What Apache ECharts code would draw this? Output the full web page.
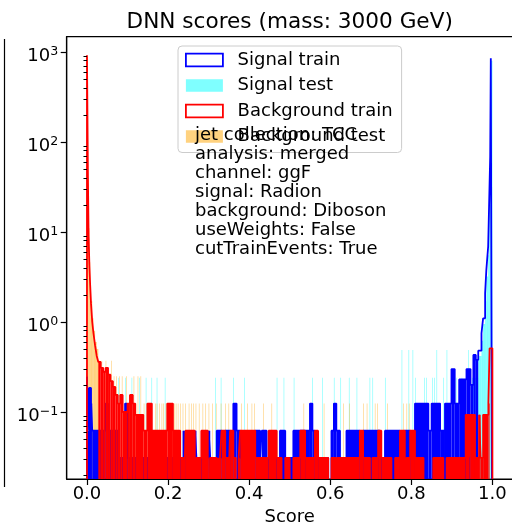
<!DOCTYPE html>
<html>
<head>
<meta charset="utf-8">
<script src="https://cdn.jsdelivr.net/npm/echarts@6/dist/echarts.min.js"></script>
<style>
html,body{margin:0;padding:0;background:#fff;}
#chart{width:512px;height:524px;}
</style>
</head>
<body>
<div id="chart"></div>
<script>
// ---------------- data ----------------
const titleText = 'DNN scores (mass: 3000 GeV)';
const xLabel = 'Score';
const xTicks = [0, 0.2, 0.4, 0.6, 0.8, 1.0];
const yTicks = [0.1, 1, 10, 100, 1000];
const yMinorTicks = [0.02,0.03,0.04,0.05,0.06,0.07,0.08,0.09,
  0.2,0.3,0.4,0.5,0.6,0.7,0.8,0.9, 2,3,4,5,6,7,8,9,
  20,30,40,50,60,70,80,90, 200,300,400,500,600,700,800,900];
const legendNames = ['Signal train', 'Signal test', 'Background train', 'Background test'];
const infoLines = ['jet collection: TCC', 'analysis: merged', 'channel: ggF', 'signal: Radion',
  'background: Diboson', 'useWeights: False', 'cutTrainEvents: True'];

// histogram bins: [scoreFrom, scoreTo, density]
const sigTrain = [
 [0.000,0.0025,0.247],[0.0025,0.005,0.062],[0.005,0.010,0.185],[0.010,0.013,0.124],
 [0.013,0.046,0.062],[0.046,0.052,0.124],[0.052,0.077,0.062],[0.077,0.094,0.031],
 [0.094,0.099,0.124],[0.099,0.160,0.031],[0.160,0.163,0.062],[0.163,0.238,0.031],
 [0.238,0.242,0.062],[0.242,0.266,0.031],[0.266,0.270,0.062],[0.270,0.300,0.031],
 [0.300,0.304,0.062],[0.304,0.320,0.031],[0.320,0.332,0.062],[0.332,0.341,0.031],
 [0.341,0.353,0.062],[0.353,0.361,0.031],[0.361,0.369,0.124],[0.369,0.378,0.062],
 [0.378,0.415,0.031],[0.415,0.427,0.062],[0.427,0.431,0.031],[0.431,0.443,0.062],
 [0.443,0.476,0.031],[0.476,0.489,0.062],[0.489,0.509,0.031],[0.509,0.550,0.062],
 [0.550,0.556,0.124],[0.556,0.562,0.062],[0.562,0.595,0.031],[0.603,0.609,0.062],
 [0.609,0.615,0.124],[0.615,0.624,0.062],[0.624,0.640,0.031],[0.640,0.673,0.062],
 [0.673,0.681,0.031],[0.681,0.722,0.062],[0.722,0.735,0.031],[0.735,0.772,0.062],
 [0.772,0.784,0.031],[0.784,0.797,0.062],[0.797,0.809,0.031],[0.809,0.842,0.124],
 [0.842,0.850,0.062],[0.850,0.871,0.124],[0.871,0.883,0.062],[0.883,0.899,0.124],
 [0.899,0.907,0.30],[0.907,0.918,0.124],[0.918,0.936,0.23],[0.936,0.946,0.30],
 [0.946,0.953,0.20],[0.953,0.959,0.43],[0.959,0.965,0.38],[0.965,0.973,0.48],
 [0.973,0.977,0.75],[0.977,0.982,1.1],[0.982,0.985,2.1],[0.985,0.9895,3.8],
 [0.9895,0.992,6.9],[0.992,0.9945,22],[0.9945,0.996,69],[0.996,1.000,850]
];
const sigTest = [
 [0.950,0.965,0.24],[0.965,0.973,0.42],[0.973,0.977,0.62],[0.977,0.982,0.95],
 [0.982,0.985,1.7],[0.985,0.9895,3.2],[0.9895,0.992,5.5],[0.992,0.9945,20],
 [0.9945,0.996,60],[0.996,1.000,800]
];
// isolated single fine bins: [score, density]
const sigTestSpikes = [
 [0.077,0.24],[0.094,0.24],[0.110,0.24],[0.129,0.24],[0.145,0.24],[0.159,0.24],[0.172,0.24],
 [0.192,0.24],[0.316,0.24],[0.330,0.24],[0.361,0.24],[0.388,0.24],[0.468,0.24],[0.485,0.24],
 [0.510,0.24],[0.555,0.24],[0.580,0.24],[0.609,0.24],[0.625,0.24],[0.646,0.24],[0.665,0.24],
 [0.697,0.24],[0.704,0.24],[0.735,0.24],[0.776,0.49],[0.793,0.49],[0.803,0.49],[0.809,0.24],
 [0.832,0.24],[0.837,0.24],[0.851,0.24],[0.856,0.24],[0.862,0.49],[0.879,0.24],[0.887,0.49],
 [0.904,0.24],[0.910,0.24],[0.924,0.24],[0.940,0.49]
];
const bkgTrain = [
 [0.000,0.0025,920],[0.0025,0.004,35],[0.004,0.006,9],[0.006,0.008,4.2],[0.008,0.010,2.5],
 [0.010,0.013,1.6],[0.013,0.016,1.0],[0.016,0.020,0.75],[0.020,0.024,0.55],[0.024,0.028,0.42],
 [0.028,0.034,0.36],[0.034,0.040,0.31],[0.040,0.046,0.28],[0.046,0.052,0.31],[0.052,0.058,0.26],
 [0.058,0.064,0.22],[0.064,0.070,0.19],[0.070,0.076,0.155],[0.076,0.082,0.124],[0.082,0.088,0.155],
 [0.088,0.100,0.10],[0.100,0.106,0.124],[0.106,0.113,0.155],[0.113,0.119,0.124],[0.119,0.139,0.093],
 [0.139,0.149,0.062],[0.149,0.160,0.124],[0.1625,0.198,0.062],[0.198,0.212,0.124],[0.212,0.230,0.062],
 [0.230,0.238,0.031],[0.2415,0.243,0.031],[0.243,0.266,0.062],[0.2695,0.282,0.031],[0.282,0.298,0.062],
 [0.298,0.300,0.031],[0.3035,0.320,0.031],[0.3235,0.324,0.031],[0.328,0.332,0.031],[0.332,0.341,0.062],
 [0.341,0.349,0.031],[0.351,0.353,0.031],[0.353,0.361,0.062],[0.361,0.367,0.031],[0.374,0.378,0.031],
 [0.378,0.415,0.062],[0.415,0.439,0.031],[0.441,0.448,0.031],[0.448,0.468,0.062],[0.468,0.480,0.031],
 [0.489,0.500,0.031],[0.509,0.526,0.031],[0.526,0.538,0.062],[0.538,0.562,0.031],[0.562,0.570,0.062],
 [0.570,0.595,0.031],[0.603,0.614,0.031],[0.617,0.673,0.031],[0.673,0.681,0.062],[0.681,0.698,0.031],
 [0.704,0.718,0.031],[0.718,0.726,0.062],[0.726,0.751,0.031],[0.760,0.772,0.031],[0.772,0.784,0.062],
 [0.788,0.797,0.031],[0.797,0.809,0.062],[0.809,0.830,0.031],[0.854,0.879,0.031],[0.887,0.934,0.031],
 [0.934,0.943,0.093],[0.943,0.945,0.031],[0.945,0.957,0.093],[0.957,0.967,0.031],[0.967,0.971,0.093],
 [0.971,0.977,0.031],[0.977,0.990,0.093],[0.990,0.993,0.124],[0.993,1.000,0.51]
];
const bkgTest = [
 [0.000,0.0025,880],[0.0025,0.004,40],[0.004,0.006,11],[0.006,0.008,4.6],[0.008,0.010,2.7],
 [0.010,0.013,1.7],[0.013,0.016,1.1],[0.016,0.020,0.8],[0.020,0.024,0.6],[0.024,0.028,0.5],
 [0.028,0.032,0.37]
];
const bkgTestSpikes = [
 [0.036,0.37],[0.041,0.25],[0.046,0.37],[0.050,0.25],[0.055,0.25],[0.060,0.37],[0.066,0.25],
 [0.072,0.25],[0.079,0.25],[0.086,0.25],[0.092,0.124],[0.097,0.25],[0.104,0.124],[0.110,0.124],
 [0.115,0.25],[0.120,0.124],[0.125,0.25],[0.132,0.25],[0.140,0.124],[0.147,0.124],[0.156,0.124],
 [0.168,0.124],[0.172,0.124],[0.178,0.124],[0.184,0.124],[0.188,0.124],[0.194,0.124],[0.203,0.124],
 [0.209,0.124],[0.215,0.124],[0.219,0.124],[0.224,0.124],[0.230,0.124],[0.236,0.124],[0.242,0.124],
 [0.251,0.124],[0.257,0.124],[0.262,0.124],[0.268,0.124],[0.276,0.124],[0.285,0.124],[0.292,0.124],
 [0.300,0.124],[0.309,0.124],[0.318,0.124],[0.330,0.124],[0.341,0.124],[0.349,0.124],[0.365,0.124],
 [0.380,0.124],[0.395,0.124],[0.406,0.124],[0.412,0.124],[0.435,0.124],[0.455,0.124],[0.534,0.124],
 [0.584,0.124],[0.632,0.124],[0.647,0.124],[0.681,0.124],[0.690,0.124],[0.710,0.124],[0.716,0.124],
 [0.740,0.124],[0.780,0.124],[0.788,0.124],[0.794,0.124],[0.858,0.124],[0.883,0.124],[0.887,0.124]
];

// ---------------- style / layout ----------------
const FONT = 'DejaVu Sans';
const X_MIN = -0.05, X_MAX = 1.05, Y_MIN = 0.01802, Y_MAX = 1479;
const FINE_BIN = 0.0016;      // width of a single fine bin
const FLOOR = 1e-4;           // below axis: empty bins
const SIG_SOLID_MAX = 0.45, BKG_SOLID_MAX = 0.4;
const C_SIG = '#0000ff', C_BKG = '#ff0000';
const C_SIG_T = 'rgba(0,255,255,0.5)', C_BKG_T = 'rgba(255,165,0,0.5)';

const spikesToBins = sp => sp.map(([x, v]) => [x, x + FINE_BIN, v]);

function outline(segs) {
  const pts = [];
  let prevEnd = null;
  segs.forEach(([x0, x1, v]) => {
    if (prevEnd === null) pts.push([x0, FLOOR]);
    else if (Math.abs(prevEnd - x0) > 1e-9) { pts.push([prevEnd, FLOOR]); pts.push([x0, FLOOR]); }
    pts.push([x0, v]); pts.push([x1, v]);
    prevEnd = x1;
  });
  pts.push([prevEnd, FLOOR]);
  return pts;
}

function rectRenderer(color) {
  return function (params, api) {
    const a = api.coord([api.value(0), api.value(2)]);
    const b = api.coord([api.value(1), api.value(2)]);
    const cs = params.coordSys;
    const bottom = cs.y + cs.height;
    return { type: 'rect', shape: { x: a[0], y: a[1], width: b[0] - a[0], height: bottom - a[1] },
             style: { fill: color } };
  };
}

function fillSeries(name, data, color, z) {
  return { type: 'custom', name, z, data, encode: { x: [0, 1], y: 2 }, clip: true, silent: true,
           itemStyle: { color }, renderItem: rectRenderer(color) };
}
function lineSeries(name, segs, color, z) {
  return { type: 'line', name, z, data: outline(segs), symbol: 'none', showSymbol: false, clip: true,
           silent: true, lineStyle: { color, width: 1.8 }, itemStyle: { color } };
}

const chart = echarts.init(document.getElementById('chart'), null, { renderer: 'canvas' });

// center the title over the plot area
const GRID_L = 66.7, GRID_W = 446;
const mctx = document.createElement('canvas').getContext('2d');
mctx.font = '21.6px "' + FONT + '"';
const titleW = mctx.measureText(titleText).width;
const plotCenter = GRID_L + GRID_W / 2;

const axisText = { fontSize: 18, fontFamily: FONT, color: '#000' };

const option = {
  animation: false,
  backgroundColor: '#fff',
  title: {
    text: titleText, left: plotCenter - titleW / 2, top: 11.6, padding: 0,
    textStyle: { fontSize: 21.6, fontWeight: 'normal', fontFamily: FONT, color: '#000', lineHeight: 21.6 }
  },
  grid: { left: GRID_L, top: 36.7, width: GRID_W, height: 442.3, show: true, borderColor: '#000', borderWidth: 1.2,
          backgroundColor: 'rgba(0,0,0,0)', containLabel: false, outerBoundsMode: 'none' },
  xAxis: {
    type: 'value', min: X_MIN, max: X_MAX, z: 10,
    axisLine: { show: true, onZero: false, lineStyle: { color: '#000', width: 1.2 } },
    axisTick: { show: true, customValues: xTicks, length: 6, lineStyle: { color: '#000', width: 1.2 } },
    axisLabel: { customValues: xTicks, formatter: v => v.toFixed(1), margin: 6, ...axisText },
    splitLine: { show: false },
    name: xLabel, nameLocation: 'middle', nameGap: 26, nameTextStyle: axisText
  },
  yAxis: [{
    type: 'log', logBase: 10, min: Y_MIN, max: Y_MAX, z: 10,
    axisLine: { show: true, onZero: false, lineStyle: { color: '#000', width: 1.2 } },
    axisTick: { show: true, customValues: yTicks, length: 6, lineStyle: { color: '#000', width: 1.2 } },
    axisLabel: {
      customValues: yTicks, margin: 8.5,
      formatter: v => {
        const e = String(Math.round(Math.log10(v))).replace('-', '\u2212');
        return '{b|10}{s|' + e + '}';
      },
      rich: {
        b: { fontSize: 18, fontFamily: FONT, color: '#000', lineHeight: 18, padding: [4, 0, 0, 0], verticalAlign: 'top' },
        s: { fontSize: 12.6, fontFamily: FONT, color: '#000', lineHeight: 12.6, padding: [2, 0, 0, 0], verticalAlign: 'top' }
      }
    },
    splitLine: { show: false }
  }, {
    type: 'log', logBase: 10, min: Y_MIN, max: Y_MAX, position: 'left', z: 10,
    axisLine: { show: false },
    axisTick: { show: true, customValues: yMinorTicks, length: 3.5, lineStyle: { color: '#000', width: 1 } },
    axisLabel: { show: false },
    splitLine: { show: false }
  }],
  legend: {
    orient: 'vertical', left: 178, top: 46, padding: [5, 9, 7, 7], itemGap: 7.5,
    itemWidth: 37, itemHeight: 12.6, icon: 'rect', selectedMode: false,
    backgroundColor: 'rgba(255,255,255,0.8)', borderColor: '#cccccc', borderWidth: 1, borderRadius: 4,
    textStyle: { fontSize: 18, fontFamily: FONT, color: '#000', lineHeight: 18, padding: [0, 0, 0, 9.7] },
    data: [
      { name: legendNames[0], icon: 'rect', itemStyle: { color: 'rgba(0,0,0,0)', borderColor: C_SIG, borderWidth: 1.8 } },
      { name: legendNames[1], icon: 'rect', itemStyle: { color: C_SIG_T, borderWidth: 0 } },
      { name: legendNames[2], icon: 'rect', itemStyle: { color: 'rgba(0,0,0,0)', borderColor: C_BKG, borderWidth: 1.8 } },
      { name: legendNames[3], icon: 'rect', itemStyle: { color: C_BKG_T, borderWidth: 0 } }
    ],
    z: 20
  },
  graphic: [
    { type: 'text', x: 195, y: 126, z: 30, silent: true,
      style: { text: infoLines.join('\n'), fontSize: 18, fontFamily: FONT, fill: '#000', lineHeight: 18.9,
               verticalAlign: 'top', align: 'left' } },
    { type: 'line', silent: true, shape: { x1: 4.5, y1: 39, x2: 4.5, y2: 487 },
      style: { stroke: '#000', lineWidth: 1.2 } }
  ],
  series: [
    fillSeries(legendNames[0], sigTrain.filter(s => s[2] <= SIG_SOLID_MAX), C_SIG, 2),
    lineSeries(legendNames[0], sigTrain, C_SIG, 2),
    fillSeries(legendNames[1], sigTest.concat(spikesToBins(sigTestSpikes)), C_SIG_T, 1),
    fillSeries(legendNames[2], bkgTrain.filter(s => s[2] <= BKG_SOLID_MAX), C_BKG, 3),
    lineSeries(legendNames[2], bkgTrain, C_BKG, 3),
    fillSeries(legendNames[3], bkgTest.concat(spikesToBins(bkgTestSpikes)), C_BKG_T, 1)
  ]
};
chart.setOption(option);
</script>
</body>
</html>
